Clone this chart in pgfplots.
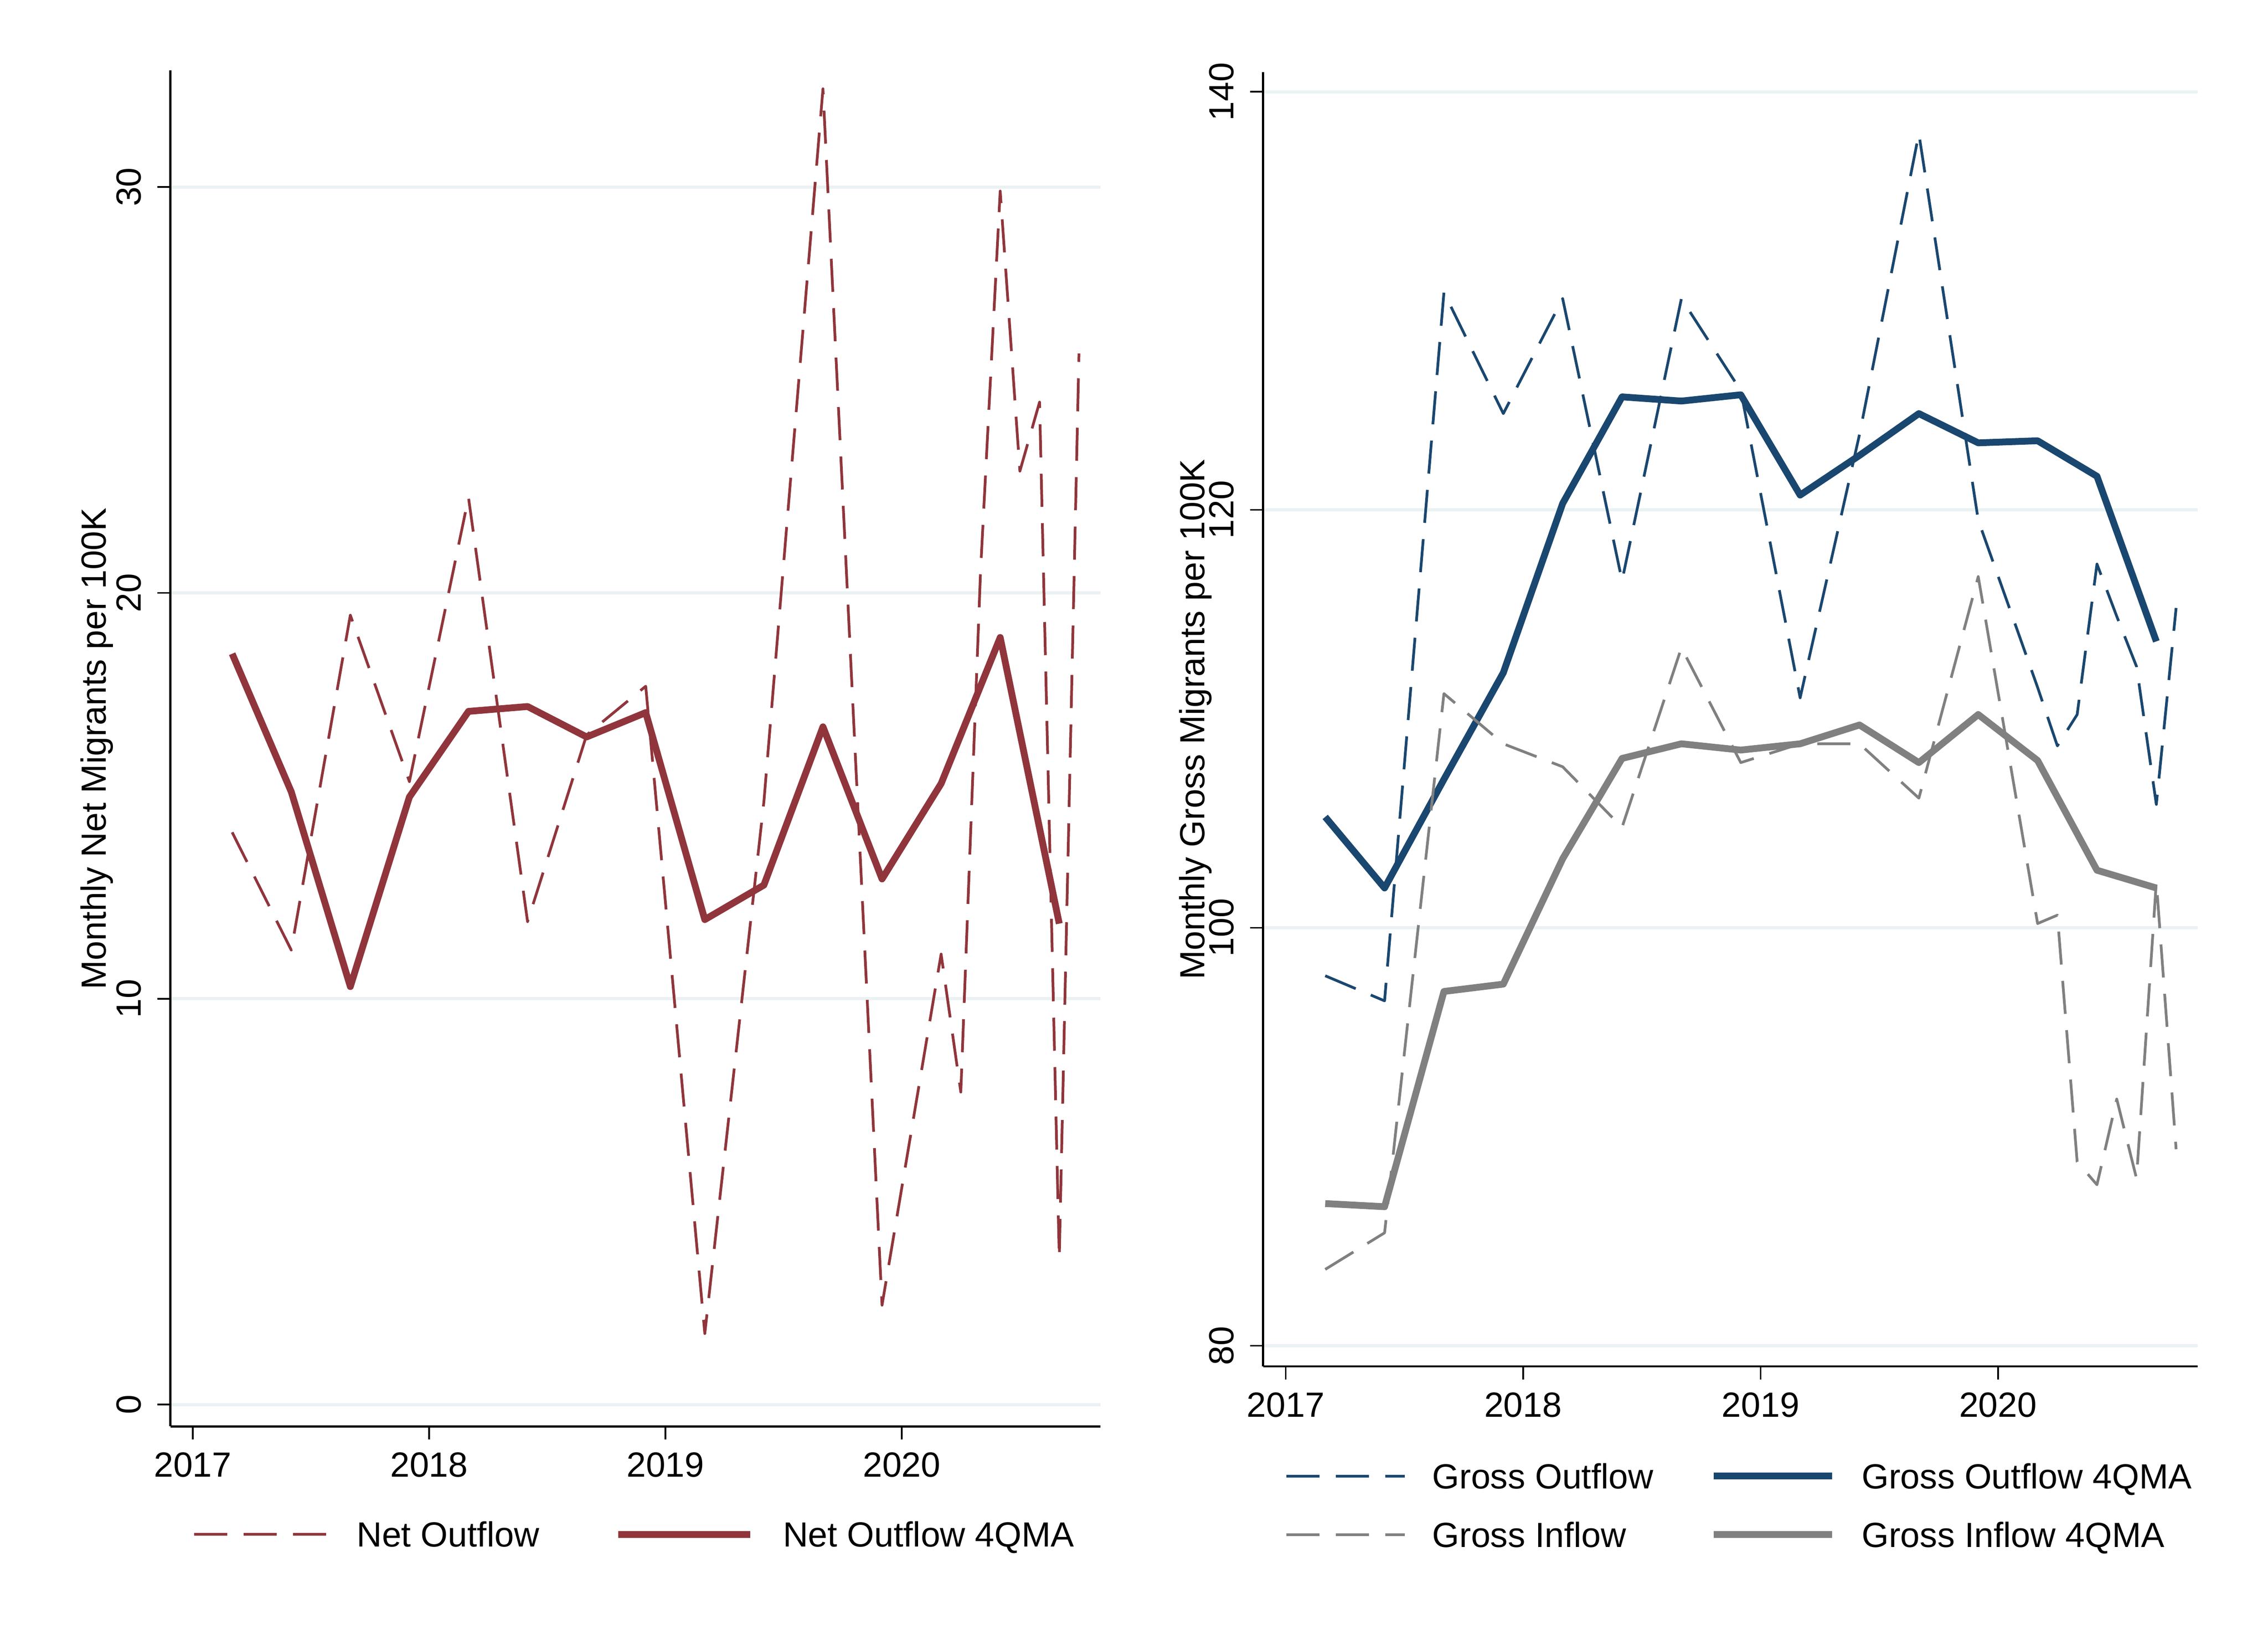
\documentclass[border=0pt]{standalone}
\usepackage{fontspec}
\setmainfont{Liberation Sans}
\usepackage{pgfplots}
\pgfplotsset{compat=1.18}

\definecolor{cranb}{RGB}{144,53,59}
\definecolor{navyst}{RGB}{26,71,111}
\definecolor{grayst}{RGB}{128,128,128}
\definecolor{gridc}{RGB}{234,242,243}

\newcommand{\fs}{\fontsize{7.7}{9.2}\selectfont}

\pgfplotsset{
 stata/.style={
  scale only axis,
  axis x line*=bottom, axis y line*=left,
  axis line style={black, line width=0.45pt, -},
  xmin=2016.905, xmax=2020.84,
  xtick={2017,2018,2019,2020},
  xticklabels={2017,2018,2019,2020},
  tick align=outside,
  major tick length=2.9pt,
  tick style={black, line width=0.35pt},
  ymajorgrids,
  grid style={gridc, line width=0.7pt},
  tick label style={font=\fs},
  xticklabel style={yshift=0.7pt},
  yticklabel style={rotate=90, anchor=south},
  label style={font=\fs},
  legend columns=2,
  legend cell align=left,
  clip=false,
  line join=round,
 },
 dsh/.style={line width=0.6pt, dash pattern=on 7.3pt off 3.6pt},
 sld/.style={line width=1.5pt},
}

\begin{document}
\begin{tikzpicture}
\useasboundingbox (0,0) rectangle (500pt,363.6pt);

\begin{axis}[stata,
  at={(37.55pt,49.25pt)}, anchor=south west,
  width=205.0pt, height=298.8pt,
  ymin=-0.54, ymax=32.87,
  ytick={0,10,20,30}, yticklabels={0,10,20,30},
  ylabel={Monthly Net Migrants per 100K},
  ylabel style={at={(axis description cs:-0.0792,0.5)}, anchor=center},
  legend image code/.code={\draw[#1] (0pt,0pt) -- (29.1pt,0pt);},
  legend style={draw=none, fill=none, font=\fs, inner sep=0pt, outer sep=0pt,
     at={(axis description cs:0,0)}, anchor=north west, xshift=4.95pt, yshift=-21.05pt,
     nodes={inner sep=0pt, text height=5.5pt, text depth=0pt},
     /tikz/every odd column/.style={column sep=6.45pt},
     /tikz/every even column/.style={column sep=16.7pt}},
]
\addplot[cranb, dsh] table {
x y
2017.1667 14.1
2017.4167 11.2
2017.6667 19.45
2017.9167 15.35
2018.1667 22.35
2018.4167 11.9
2018.6667 16.5
2018.9167 17.7
2019.1667 1.75
2019.4167 14.85
2019.6667 32.42
2019.9167 2.45
2020.1667 11.1
2020.25 7.7
2020.3333 20.5
2020.4167 29.9
2020.5 23.0
2020.5833 24.7
2020.6667 3.6
2020.75 25.9
};
\addlegendentry{Net Outflow}
\addplot[cranb, sld] table {
x y
2017.1667 18.5
2017.4167 15.1
2017.6667 10.3
2017.9167 14.97
2018.1667 17.08
2018.4167 17.2
2018.6667 16.45
2018.9167 17.05
2019.1667 11.95
2019.4167 12.8
2019.6667 16.7
2019.9167 12.95
2020.1667 15.3
2020.4167 18.9
2020.6667 11.85
};
\addlegendentry{Net Outflow 4QMA}
\end{axis}

\begin{axis}[stata,
  at={(278.45pt,62.5pt)}, anchor=south west,
  width=206.0pt, height=285.2pt,
  ymin=79.01, ymax=140.94,
  ytick={80,100,120,140}, yticklabels={80,100,120,140},
  ylabel={Monthly Gross Migrants per 100K},
  ylabel style={at={(axis description cs:-0.0723,0.5)}, anchor=center},
  legend image code/.code={\draw[#1] (0pt,0pt) -- (26.1pt,0pt);},
  legend style={draw=none, fill=none, font=\fs, inner sep=0pt, outer sep=0pt,
     at={(axis description cs:0,0)}, anchor=north west, xshift=4.8pt, yshift=-21.45pt,
     nodes={inner sep=0pt, text height=5.5pt, text depth=0pt},
     row sep=7.4pt,
     /tikz/every odd column/.style={column sep=5.8pt},
     /tikz/every even column/.style={column sep=12.5pt}},
]
\addplot[navyst, dsh] table {
x y
2017.1667 97.7
2017.4167 96.5
2017.6667 130.4
2017.9167 124.6
2018.1667 130.1
2018.4167 116.6
2018.6667 130.1
2018.9167 125.7
2019.1667 111.0
2019.4167 123.6
2019.6667 138.0
2019.9167 119.5
2020.1667 111.5
2020.25 108.7
2020.3333 110.2
2020.4167 117.4
2020.5 114.9
2020.5833 112.5
2020.6667 105.9
2020.75 115.3
};
\addlegendentry{Gross Outflow}
\addplot[navyst, sld] table {
x y
2017.1667 105.3
2017.4167 101.9
2017.6667 107.1
2017.9167 112.2
2018.1667 120.3
2018.4167 125.4
2018.6667 125.2
2018.9167 125.5
2019.1667 120.7
2019.4167 122.6
2019.6667 124.6
2019.9167 123.2
2020.1667 123.3
2020.4167 121.6
2020.6667 113.7
};
\addlegendentry{Gross Outflow 4QMA}
\addplot[grayst, dsh] table {
x y
2017.1667 83.65
2017.4167 85.4
2017.6667 111.2
2017.9167 108.8
2018.1667 107.7
2018.4167 104.8
2018.6667 113.4
2018.9167 107.9
2019.1667 108.8
2019.4167 108.8
2019.6667 106.2
2019.9167 116.8
2020.1667 100.2
2020.25 100.6
2020.3333 88.8
2020.4167 87.7
2020.5 91.8
2020.5833 88.0
2020.6667 102.2
2020.75 89.4
};
\addlegendentry{Gross Inflow}
\addplot[grayst, sld] table {
x y
2017.1667 86.8
2017.4167 86.65
2017.6667 96.95
2017.9167 97.3
2018.1667 103.3
2018.4167 108.1
2018.6667 108.8
2018.9167 108.5
2019.1667 108.8
2019.4167 109.7
2019.6667 107.9
2019.9167 110.2
2020.1667 108.0
2020.4167 102.75
2020.6667 101.9
};
\addlegendentry{Gross Inflow 4QMA}
\end{axis}
\end{tikzpicture}
\end{document}
